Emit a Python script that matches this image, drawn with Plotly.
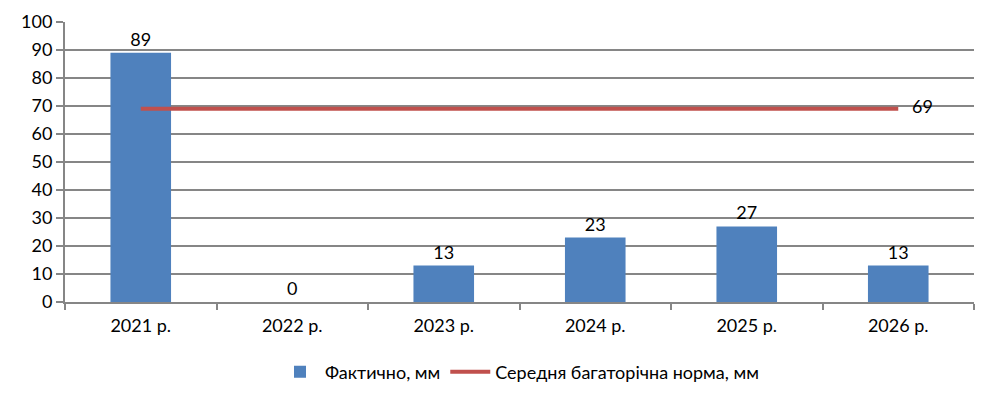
import plotly.graph_objects as go

years = ["2021 р.", "2022 р.", "2023 р.", "2024 р.", "2025 р.", "2026 р."]
actual_mm = [89, 0, 13, 23, 27, 13]
norm_mm = [69, 69, 69, 69, 69, 69]

bar_name = "Фактично, мм"
line_name = "Середня багаторічна норма, мм"

FONT = "Lato, 'Open Sans', Arial, sans-serif"
GRID = "#868686"

fig = go.Figure()

fig.add_trace(go.Bar(
    x=years,
    y=actual_mm,
    name=bar_name,
    marker=dict(color="#4F81BD", line=dict(width=0)),
    text=[str(v) for v in actual_mm],
    textposition="outside",
    textfont=dict(size=18, color="#000000"),
    cliponaxis=False,
))

# only the last point of the norm line carries a label
norm_text = [""] * (len(norm_mm) - 1) + ["   " + str(norm_mm[-1])]
fig.add_trace(go.Scatter(
    x=years,
    y=norm_mm,
    name=line_name,
    mode="lines+text",
    line=dict(color="#C0504D", width=4),
    text=norm_text,
    textposition="middle right",
    textfont=dict(size=18, color="#000000"),
    cliponaxis=False,
))

# page body adds an 8px offset, so margins are trimmed by that amount
fig.update_layout(
    width=997,
    height=404,
    plot_bgcolor="white",
    paper_bgcolor="white",
    font=dict(family=FONT, size=18, color="#000000"),
    margin=dict(l=57, r=31, t=14, b=110, autoexpand=False),
    bargap=0.6,
    showlegend=True,
    legend=dict(
        orientation="h",
        x=0.5,
        xanchor="center",
        y=-0.25,
        yanchor="middle",
        font=dict(size=18),
        itemwidth=40,
    ),
    xaxis=dict(
        type="category",
        showline=True,
        linecolor=GRID,
        linewidth=2,
        ticks="outside",
        tickson="boundaries",
        ticklen=6,
        tickcolor=GRID,
        tickwidth=2,
        ticklabelstandoff=6,
        showgrid=False,
        tickfont=dict(size=18),
    ),
    yaxis=dict(
        range=[0, 100],
        dtick=10,
        showline=True,
        linecolor=GRID,
        linewidth=2,
        ticks="outside",
        ticklen=7,
        tickcolor=GRID,
        tickwidth=2,
        showgrid=True,
        gridcolor=GRID,
        gridwidth=2,
        zeroline=False,
        tickfont=dict(size=18),
    ),
)

fig.write_html("out.html")
